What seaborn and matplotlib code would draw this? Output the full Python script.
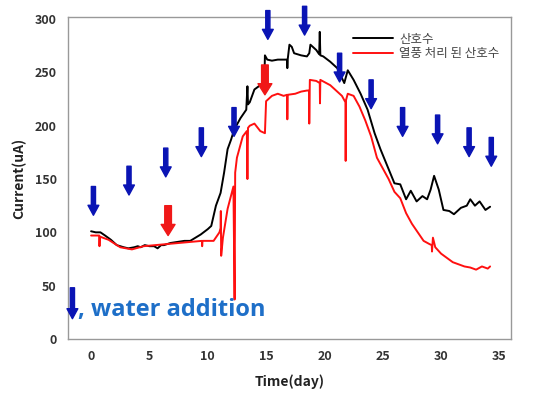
import matplotlib
matplotlib.use("Agg")
import matplotlib.pyplot as plt
import seaborn as sns
import pandas as pd

# ---- data ----
black_day = [0.0, 0.4, 0.8, 1.2, 1.7, 2.2, 2.8, 3.2, 3.7, 4.0, 4.25, 4.6, 5.0, 5.4, 5.7, 6.0, 6.25, 6.8, 7.4, 8.0, 8.5, 8.8, 9.4, 10.0,
             10.3, 10.7, 11.1, 11.4, 11.7, 12.0, 12.25, 12.8, 13.3, 13.4, 13.45, 13.6, 14.0, 14.5, 14.85, 14.9, 15.1, 15.5,
             16.0, 16.8, 16.82, 16.85, 17.0, 17.2, 17.4, 18.0, 18.5, 18.7, 18.8, 19.3, 19.55, 19.6, 19.65, 19.9, 20.5, 21.1,
             21.7, 22.0, 22.5, 23.1, 23.7, 24.3, 24.8, 25.4, 26.0, 26.5, 27.0, 27.4, 27.9, 28.4, 28.8, 29.1, 29.4, 29.8,
             30.2, 30.7, 31.1, 31.7, 32.2, 32.5, 32.9, 33.3, 33.8, 34.2]
black_cur = [101, 100, 100, 97, 93, 88, 86, 85, 86, 87, 86, 88, 87, 87, 85, 88, 88, 90, 91, 92, 92, 94, 98, 103,
             106, 125, 137, 156, 178, 187, 196, 207, 215, 237, 220, 222, 234, 238, 240, 266, 262, 261,
             262, 262, 254, 262, 276, 274, 268, 266, 265, 268, 276, 271, 267, 288, 266, 265, 260, 254,
             240, 252, 243, 230, 215, 193, 178, 162, 146, 145, 131, 139, 129, 134, 131, 140, 153, 140,
             121, 120, 117, 123, 125, 131, 125, 129, 121, 124]

red_day = [0.0, 0.5, 0.7, 0.72, 0.75, 1.5, 2.5, 3.5, 4.5, 5.5, 6.5, 7.5, 8.5, 9.5, 9.52, 9.55, 10.5, 11.0, 11.1, 11.12, 11.15, 11.3,
           11.7, 12.2, 12.3, 12.35, 12.5, 13.0, 13.35, 13.4, 13.45, 13.6, 14.0, 14.5, 14.9, 15.0, 15.5, 16.0, 16.5, 16.8,
           16.82, 16.85, 17.5, 18.0, 18.5, 18.68, 18.7, 18.75, 19.3, 19.6, 19.62, 19.65, 20.5, 21.0, 21.5, 21.8, 21.82,
           21.85, 22.0, 22.5, 23.0, 23.5, 24.0, 24.5, 25.0, 25.5, 26.0, 26.5, 27.0, 27.5, 28.0, 28.5, 29.0, 29.2,
           29.22, 29.3, 29.5, 30.0, 30.5, 31.0, 31.5, 32.0, 32.5, 33.0, 33.5, 34.0, 34.2]
red_cur = [97, 97, 97, 87, 96, 93, 86, 84, 87, 88, 89, 90, 91, 92, 87, 92, 92, 100, 104, 120, 78, 95,
           122, 143, 37, 156, 170, 190, 195, 150, 198, 200, 202, 195, 193, 223, 228, 230, 228, 229,
           206, 229, 230, 232, 233, 233, 202, 243, 242, 240, 221, 243, 238, 233, 228, 222, 167,
           224, 230, 228, 218, 205, 190, 170, 160, 150, 138, 132, 118, 108, 100, 92, 89, 88,
           82, 95, 86, 80, 76, 72, 70, 68, 67, 65, 68, 66, 68]

blue_arrow_day = [0.2, 3.25, 6.4, 9.45, 12.25, 15.15, 18.3, 21.3, 24.0, 26.7, 29.7, 32.4, 34.3]
blue_arrow_tip = [116, 135, 152, 171, 190, 281, 285, 241, 216, 190, 183, 171, 162]
red_arrow_day = [6.6, 14.9]
red_arrow_tip = [97, 229]

series_names = ["산호수", "열풍 처리 된 산호수"]
x_ticks = [0, 5, 10, 15, 20, 25, 30, 35]
y_ticks = [0, 50, 100, 150, 200, 250, 300]

# ---- build table ----
df = pd.concat([
    pd.DataFrame({"day": black_day, "cur": black_cur, "s": series_names[0]}),
    pd.DataFrame({"day": red_day, "cur": red_cur, "s": series_names[1]}),
])

sns.set_style("white")
plt.rcParams["font.family"] = ["Noto Sans CJK KR", "DejaVu Sans"]

fig = plt.figure(figsize=(5.42, 4.04), dpi=100)
ax = fig.add_axes([0.125, 0.161, 0.818, 0.797])

sns.lineplot(data=df, x="day", y="cur", hue="s", sort=False, estimator=None,
             palette={series_names[0]: "#000000", series_names[1]: "#ff1010"},
             linewidth=1.4, ax=ax)

ax.set_xlim(-2, 36)
ax.set_ylim(0, 302)
ax.set_xticks(x_ticks)
ax.set_yticks(y_ticks)
ax.tick_params(axis="both", direction="out", length=3, width=1, color="#888888",
               labelsize=9, labelcolor="#333333", pad=5)
for lab in ax.get_xticklabels() + ax.get_yticklabels():
    lab.set_fontweight("bold")
ax.set_xlabel("Time(day)", fontsize=10, fontweight="bold", color="#222222", labelpad=8)
ax.set_ylabel("Current(uA)", fontsize=10, fontweight="bold", color="#222222", labelpad=6)
for sp in ax.spines.values():
    sp.set_color("#999999")
    sp.set_linewidth(1.0)

leg = ax.legend(loc="upper right", bbox_to_anchor=(0.99, 0.975), frameon=False, fontsize=9,
                handlelength=3.2, handletextpad=0.5, labelspacing=0.15, borderaxespad=0.2)
for t in leg.get_texts():
    t.set_color("#444444")

blue_style = "simple,head_width=1.3,head_length=1.2,tail_width=0.5"
for d, tip in zip(blue_arrow_day, blue_arrow_tip):
    ax.annotate("", xy=(d, tip), xytext=(d, tip + 27), annotation_clip=False,
                arrowprops=dict(arrowstyle=blue_style, mutation_scale=6,
                                color="#0a14b4", shrinkA=0, shrinkB=0))
for d, tip in zip(red_arrow_day, red_arrow_tip):
    ax.annotate("", xy=(d, tip), xytext=(d, tip + 28), annotation_clip=False,
                arrowprops=dict(arrowstyle="simple,head_width=1.25,head_length=1.0,tail_width=0.6",
                                mutation_scale=8, color="#f01818", shrinkA=0, shrinkB=0))

# legend of the arrow meaning
ax.annotate("", xy=(-1.6, 19), xytext=(-1.6, 48), annotation_clip=False,
            arrowprops=dict(arrowstyle=blue_style, mutation_scale=6,
                            color="#0a14b4", shrinkA=0, shrinkB=0))
ax.text(-1.1, 27, ", water addition", fontsize=17, fontweight="bold", color="#1e6fc8",
        va="center", ha="left", family=["Open Sans", "DejaVu Sans"])

fig.savefig("out.png", dpi=100, facecolor="white")
